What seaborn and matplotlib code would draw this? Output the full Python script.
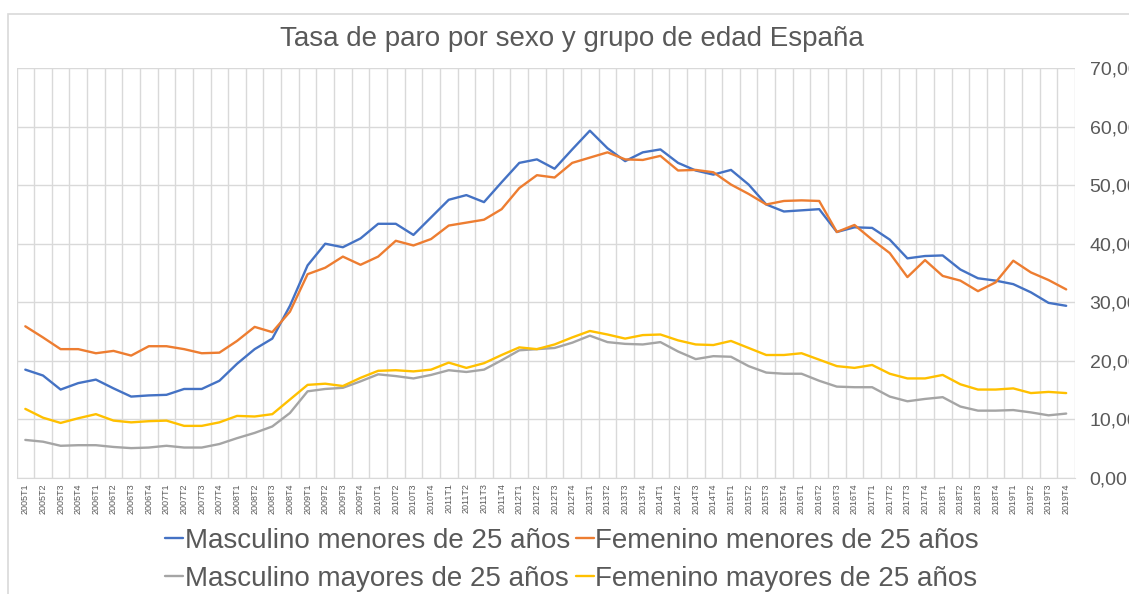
import numpy as np
import pandas as pd
import matplotlib
matplotlib.use("Agg")
import matplotlib.pyplot as plt
import seaborn as sns
from matplotlib.patches import Rectangle
from matplotlib.ticker import FuncFormatter

# quarters 2005T1 .. 2019T4
periodos = [f"{a}T{t}" for a in range(2005, 2020) for t in range(1, 5)]

masc_menores = [18.5, 17.5, 15.1, 16.2, 16.8, 15.3, 13.9, 14.1, 14.2, 15.2, 15.2, 16.6,
                19.5, 22.0, 23.8, 29.4, 36.3, 40.0, 39.4, 40.9, 43.4, 43.4, 41.5, 44.5,
                47.5, 48.3, 47.1, 50.5, 53.8, 54.4, 52.8, 56.1, 59.3, 56.3, 54.1, 55.6,
                56.1, 53.8, 52.5, 51.8, 52.6, 50.1, 46.7, 45.5, 45.7, 45.9, 42.0, 42.8,
                42.7, 40.7, 37.5, 37.9, 38.0, 35.6, 34.1, 33.7, 33.1, 31.7, 29.9, 29.4]
fem_menores = [25.9, 24.0, 22.0, 22.0, 21.3, 21.7, 20.9, 22.5, 22.5, 22.0, 21.3, 21.4,
               23.4, 25.8, 24.9, 28.4, 34.8, 35.9, 37.8, 36.4, 37.8, 40.5, 39.7, 40.8,
               43.1, 43.6, 44.1, 45.9, 49.5, 51.7, 51.3, 53.8, 54.7, 55.6, 54.4, 54.3,
               55.0, 52.5, 52.6, 52.2, 50.1, 48.5, 46.7, 47.3, 47.4, 47.3, 42.0, 43.2,
               40.7, 38.4, 34.3, 37.2, 34.5, 33.7, 31.9, 33.4, 37.1, 35.1, 33.8, 32.2]
masc_mayores = [6.5, 6.2, 5.5, 5.6, 5.6, 5.3, 5.1, 5.2, 5.5, 5.2, 5.2, 5.8,
                6.8, 7.7, 8.8, 11.1, 14.8, 15.2, 15.4, 16.5, 17.7, 17.4, 17.0, 17.6,
                18.4, 18.1, 18.5, 20.1, 21.8, 22.0, 22.2, 23.1, 24.3, 23.2, 22.9, 22.8,
                23.2, 21.6, 20.3, 20.8, 20.7, 19.1, 18.0, 17.8, 17.8, 16.6, 15.6, 15.5,
                15.5, 13.9, 13.1, 13.5, 13.8, 12.2, 11.5, 11.5, 11.6, 11.2, 10.7, 11.0]
fem_mayores = [11.8, 10.3, 9.4, 10.2, 10.9, 9.8, 9.5, 9.7, 9.8, 8.9, 8.9, 9.5,
               10.6, 10.5, 10.9, 13.4, 15.9, 16.1, 15.7, 17.1, 18.3, 18.4, 18.2, 18.5,
               19.7, 18.8, 19.6, 21.0, 22.3, 22.0, 22.8, 24.0, 25.1, 24.5, 23.8, 24.4,
               24.5, 23.5, 22.8, 22.7, 23.4, 22.2, 21.0, 21.0, 21.3, 20.2, 19.1, 18.8,
               19.3, 17.8, 17.0, 17.0, 17.6, 16.0, 15.1, 15.1, 15.3, 14.5, 14.7, 14.5]

series = {
    "Masculino menores de 25 años": masc_menores,
    "Femenino menores de 25 años": fem_menores,
    "Masculino mayores de 25 años": masc_mayores,
    "Femenino mayores de 25 años": fem_mayores,
}
colores = ["#4472C4", "#ED7D31", "#A5A5A5", "#FFC000"]

df = pd.DataFrame(series)
df["idx"] = np.arange(len(periodos))
largo = df.melt(id_vars="idx", var_name="serie", value_name="tasa")

sns.set_style("white")
plt.rcParams["font.family"] = ["Liberation Sans", "DejaVu Sans"]
texto = "#595959"
rejilla = "#D9D9D9"

fig = plt.figure(figsize=(11.29, 5.94), dpi=100)
ax = fig.add_axes([16.5 / 1129, 1 - 478 / 594, (1075 - 16.5) / 1129, (478 - 68) / 594])

# chart border like excel
fig.patches.append(Rectangle((7.5 / 1129, -0.1), 1.2, 1 - 14.5 / 594 + 0.1,
                             transform=fig.transFigure, fill=False,
                             edgecolor=rejilla, lw=1.2, zorder=0))

sns.lineplot(data=largo, x="idx", y="tasa", hue="serie", palette=colores,
             linewidth=1.7, ax=ax, legend=False)

ax.set_xlim(-0.5, len(periodos) - 0.5)
ax.set_ylim(0, 70)
ax.set_xticks(np.arange(len(periodos)))
ax.set_xticklabels(periodos, rotation=90, fontsize=6.5, color=texto)
ax.set_xticks(np.arange(len(periodos) + 1) - 0.5, minor=True)
ax.grid(which="minor", axis="x", color=rejilla, lw=1)
ax.set_yticks(np.arange(0, 71, 10))
ax.yaxis.set_major_formatter(FuncFormatter(lambda v, p: f"{v:.2f}".replace(".", ",")))
ax.yaxis.tick_right()
ax.tick_params(axis="y", labelsize=14, labelcolor=texto, length=0, pad=10.5)
ax.tick_params(axis="x", which="both", length=0, pad=4)
ax.grid(which="major", axis="y", color=rejilla, lw=1)
for s in ["top", "right", "left"]:
    ax.spines[s].set_visible(False)
ax.spines["bottom"].set_color(rejilla)
ax.set_xlabel("")
ax.set_ylabel("")
ax.set_axisbelow(True)

fig.text(571.5 / 1129, 1 - 39 / 594, "Tasa de paro por sexo y grupo de edad España",
         ha="center", va="center", fontsize=20, color=texto)

# legend filled column by column, so order to read row by row
nombres = list(series.keys())
orden = [0, 2, 1, 3]
handles = [plt.Line2D([], [], color=colores[i], lw=1.7) for i in orden]
leg = fig.legend(handles, [nombres[i] for i in orden], loc="center",
                 bbox_to_anchor=(572 / 1129, 1 - 560 / 594), ncol=2, frameon=False,
                 fontsize=20, handlelength=0.65, handletextpad=0.05,
                 columnspacing=0.2, labelspacing=0.42, borderpad=0)
for t in leg.get_texts():
    t.set_color(texto)

fig.savefig("out.png", dpi=100)
